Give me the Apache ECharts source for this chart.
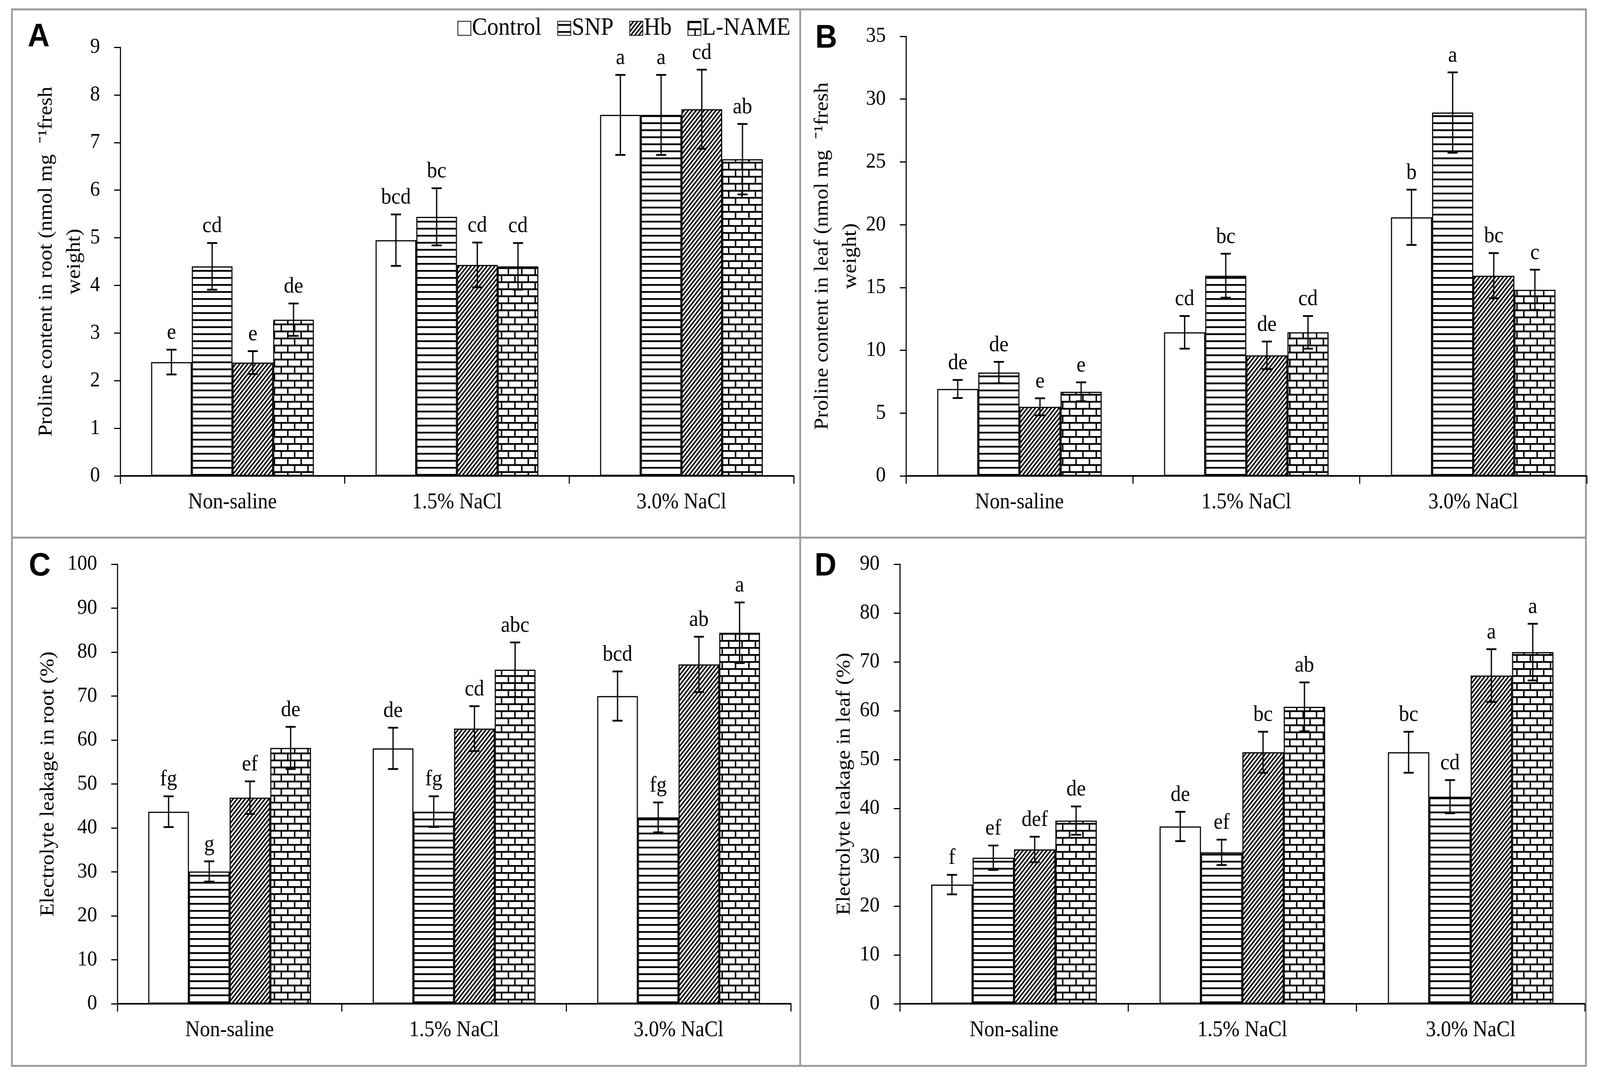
<!DOCTYPE html>
<html>
<head>
<meta charset="utf-8">
<script src="https://cdn.jsdelivr.net/npm/echarts@6/dist/echarts.min.js"></script>
<style>
html,body{margin:0;padding:0;background:#fff;overflow:hidden;width:100%;height:100%;}
#chart{width:4431px;height:2759px;position:absolute;left:0;top:0;transform-origin:0 0;}
</style>
</head>
<body>
<div id="chart"></div>
<script>
// ---------------- DATA ----------------
const categories = ['Non-saline', '1.5% NaCl', '3.0% NaCl'];
const treatments = ['Control', 'SNP', 'Hb', 'L-NAME'];

// Panel A: Proline content in root
const A_control = [2.39, 4.95, 7.58];
const A_snp     = [4.40, 5.44, 7.58];
const A_hb      = [2.38, 4.43, 7.70];
const A_lname   = [3.28, 4.40, 6.65];
const A_control_err = [0.26, 0.54, 0.84];
const A_snp_err     = [0.49, 0.60, 0.84];
const A_hb_err      = [0.24, 0.47, 0.83];
const A_lname_err   = [0.34, 0.49, 0.74];
const A_control_lbl = ['e', 'bcd', 'a'];
const A_snp_lbl     = ['cd', 'bc', 'a'];
const A_hb_lbl      = ['e', 'cd', 'cd'];
const A_lname_lbl   = ['de', 'cd', 'ab'];

// Panel B: Proline content in leaf
const B_control = [6.92, 11.43, 20.59];
const B_snp     = [8.23, 15.94, 28.93];
const B_hb      = [5.50, 9.60, 15.94];
const B_lname   = [6.70, 11.43, 14.82];
const B_control_err = [0.72, 1.30, 2.20];
const B_snp_err     = [0.85, 1.75, 3.20];
const B_hb_err      = [0.68, 1.10, 1.80];
const B_lname_err   = [0.75, 1.30, 1.60];
const B_control_lbl = ['de', 'cd', 'b'];
const B_snp_lbl     = ['de', 'bc', 'a'];
const B_hb_lbl      = ['e', 'de', 'bc'];
const B_lname_lbl   = ['e', 'cd', 'c'];

// Panel C: Electrolyte leakage in root
const C_control = [43.7, 58.1, 70.0];
const C_snp     = [30.1, 43.7, 42.4];
const C_hb      = [46.9, 62.6, 77.2];
const C_lname   = [58.2, 76.0, 84.4];
const C_control_err = [3.5, 4.7, 5.6];
const C_snp_err     = [2.3, 3.5, 3.4];
const C_hb_err      = [3.7, 5.1, 6.3];
const C_lname_err   = [4.8, 6.2, 6.9];
const C_control_lbl = ['fg', 'de', 'bcd'];
const C_snp_lbl     = ['g', 'fg', 'fg'];
const C_hb_lbl      = ['ef', 'cd', 'ab'];
const C_lname_lbl   = ['de', 'abc', 'a'];

// Panel D: Electrolyte leakage in leaf
const D_control = [24.4, 36.3, 51.5];
const D_snp     = [29.9, 31.0, 42.4];
const D_hb      = [31.6, 51.5, 67.2];
const D_lname   = [37.5, 60.8, 72.0];
const D_control_err = [2.0, 3.0, 4.2];
const D_snp_err     = [2.5, 2.6, 3.4];
const D_hb_err      = [2.6, 4.2, 5.4];
const D_lname_err   = [2.9, 5.0, 5.8];
const D_control_lbl = ['f', 'de', 'bc'];
const D_snp_lbl     = ['ef', 'ef', 'cd'];
const D_hb_lbl      = ['def', 'bc', 'a'];
const D_lname_lbl   = ['de', 'ab', 'a'];

// Axis settings
const yMax = [9, 35, 100, 90];
const yInterval = [1, 5, 10, 10];
const yTitles = [
  'Proline content in root (nmol mg  \u207B\u00B9fresh\nweight)',
  'Proline content in leaf (nmol mg  \u207B\u00B9fresh\nweight)',
  'Electrolyte leakage in root (%)',
  'Electrolyte leakage in leaf (%)'
];
const panelLetters = ['A', 'B', 'C', 'D'];

// ---------------- FIT TO WINDOW ----------------
const el = document.getElementById('chart');
const sx = (window.innerWidth || 4431) / 4431;
const sy = (window.innerHeight || 2759) / 2759;
el.style.transform = 'scale(' + sx + ',' + sy + ')';

// ---------------- PATTERNS ----------------
function makeCanvas(w, h) {
  const c = document.createElement('canvas');
  c.width = w; c.height = h;
  const ctx = c.getContext('2d');
  ctx.fillStyle = '#fff';
  ctx.fillRect(0, 0, w, h);
  return [c, ctx];
}
function stripePattern() {
  const [c, ctx] = makeCanvas(20, 18);
  ctx.fillStyle = '#000';
  ctx.fillRect(0, 7, 20, 4.5);
  return c;
}
function hatchPattern() {
  const w = 11, h = 13;
  const [c, ctx] = makeCanvas(w, h);
  ctx.strokeStyle = '#000';
  ctx.lineWidth = 4;
  ctx.lineCap = 'square';
  [-w, 0, w].forEach(o => {
    ctx.beginPath();
    ctx.moveTo(o, h);
    ctx.lineTo(o + w, 0);
    ctx.stroke();
  });
  return c;
}
function brickPattern() {
  const w = 37, h = 36;
  const [c, ctx] = makeCanvas(w, h);
  ctx.fillStyle = '#000';
  ctx.fillRect(0, 0, w, 4.5);
  ctx.fillRect(0, 18, w, 4.5);
  ctx.fillRect(0, 0, 4, 18);
  ctx.fillRect(18, 18, 4, 18);
  return c;
}
const fills = [
  '#ffffff',
  { image: stripePattern(), repeat: 'repeat' },
  { image: hatchPattern(), repeat: 'repeat' },
  { image: brickPattern(), repeat: 'repeat' }
];

// ---------------- LAYOUT ----------------
const SERIF = "'Liberation Serif', 'Times New Roman', serif";
const grids = [
  { left: 333, top: 121, width: 1865, height: 1097 },
  { left: 2509, top: 93, width: 1885, height: 1125 },
  { left: 325, top: 1444, width: 1865, height: 1125 },
  { left: 2492, top: 1444, width: 1897, height: 1125 }
];
const nameGaps = [86, 108, 152, 110];
const GAP = 0.275;

const panelData = [
  { m: [A_control, A_snp, A_hb, A_lname], e: [A_control_err, A_snp_err, A_hb_err, A_lname_err], l: [A_control_lbl, A_snp_lbl, A_hb_lbl, A_lname_lbl] },
  { m: [B_control, B_snp, B_hb, B_lname], e: [B_control_err, B_snp_err, B_hb_err, B_lname_err], l: [B_control_lbl, B_snp_lbl, B_hb_lbl, B_lname_lbl] },
  { m: [C_control, C_snp, C_hb, C_lname], e: [C_control_err, C_snp_err, C_hb_err, C_lname_err], l: [C_control_lbl, C_snp_lbl, C_hb_lbl, C_lname_lbl] },
  { m: [D_control, D_snp, D_hb, D_lname], e: [D_control_err, D_snp_err, D_hb_err, D_lname_err], l: [D_control_lbl, D_snp_lbl, D_hb_lbl, D_lname_lbl] }
];

const xAxes = [], yAxes = [], series = [];
grids.forEach((g, gi) => {
  xAxes.push({
    type: 'category', gridIndex: gi, data: categories,
    axisLine: { lineStyle: { color: '#000', width: 4 } },
    axisTick: { show: true, length: 20, lineStyle: { color: '#000', width: 3 } },
    axisLabel: { fontFamily: SERIF, fontSize: 56, color: '#000', margin: 40 },
    splitLine: { show: false }
  });
  yAxes.push({
    type: 'value', gridIndex: gi, min: 0, max: yMax[gi], interval: yInterval[gi],
    name: yTitles[gi], nameLocation: 'middle', nameGap: nameGaps[gi],
    nameTextStyle: { fontFamily: SERIF, fontSize: 55, color: '#000', lineHeight: 78 },
    axisLine: { show: true, lineStyle: { color: '#000', width: 3 } },
    axisTick: { show: true, length: 17, lineStyle: { color: '#000', width: 3 } },
    axisLabel: { fontFamily: SERIF, fontSize: 55, color: '#000', margin: 56 },
    splitLine: { show: false }
  });
  const pd = panelData[gi];
  treatments.forEach((t, ti) => {
    series.push({
      type: 'bar', name: t, xAxisIndex: gi, yAxisIndex: gi,
      data: pd.m[ti],
      barGap: '0%', barCategoryGap: (GAP * 100) + '%',
      itemStyle: { color: fills[ti], borderColor: '#000', borderWidth: 3 },
      emphasis: { disabled: true },
      animation: false
    });
  });
  treatments.forEach((t, ti) => {
    const means = pd.m[ti], errs = pd.e[ti], lbls = pd.l[ti];
    series.push({
      type: 'custom', xAxisIndex: gi, yAxisIndex: gi, z: 10,
      data: means.map((v, i) => [i, v, errs[i]]),
      animation: false,
      renderItem: (params, api) => {
        const ci = api.value(0), m = api.value(1), e = api.value(2);
        const band = api.size([1, 0])[0];
        const groupW = band * (1 - GAP);
        const bw = groupW / 4;
        const cx = api.coord([ci, m])[0] - groupW / 2 + bw * (ti + 0.5);
        const yTop = api.coord([ci, m + e])[1];
        const yBot = api.coord([ci, m - e])[1];
        const cap = 14;
        const st = { stroke: '#000', lineWidth: 3.5 };
        return {
          type: 'group', children: [
            { type: 'line', shape: { x1: cx, y1: yTop, x2: cx, y2: yBot }, style: st },
            { type: 'line', shape: { x1: cx - cap, y1: yTop, x2: cx + cap, y2: yTop }, style: { stroke: '#000', lineWidth: 4.5 } },
            { type: 'line', shape: { x1: cx - cap, y1: yBot, x2: cx + cap, y2: yBot }, style: { stroke: '#000', lineWidth: 4.5 } },
            { type: 'text', x: cx, y: yTop - 14, style: { text: lbls[params.dataIndex], textAlign: 'center', textVerticalAlign: 'bottom', fontFamily: SERIF, fontSize: 57, fill: '#000' } }
          ]
        };
      }
    });
  });
});

// Frame and panel letters
const FR = { l: 33, t: 24, r: 4392, b: 2728, mx: 2216, my: 1376 };
const frameStyle = { stroke: '#9a9a9a', lineWidth: 5 };
const graphic = [
  { type: 'rect', shape: { x: FR.l, y: FR.t, width: FR.r - FR.l, height: FR.b - FR.t }, style: { fill: 'none', stroke: '#9a9a9a', lineWidth: 5 }, z: -1 },
  { type: 'line', shape: { x1: FR.mx, y1: FR.t, x2: FR.mx, y2: FR.b }, style: frameStyle, z: -1 },
  { type: 'line', shape: { x1: FR.l, y1: FR.my, x2: FR.r, y2: FR.my }, style: frameStyle, z: -1 }
];
const letterPos = [[107, 96], [2288, 99], [110, 1450], [2286, 1450]];
letterPos.forEach((p, i) => {
  graphic.push({ type: 'text', x: p[0], y: p[1], style: { text: panelLetters[i], textAlign: 'center', textVerticalAlign: 'middle', fontFamily: "'Liberation Sans', Arial, sans-serif", fontWeight: 'bold', fontSize: 84, fill: '#000' } });
});

const chart = echarts.init(el, null, { renderer: 'canvas', width: 4431, height: 2759 });
chart.setOption({
  backgroundColor: '#ffffff',
  animation: false,
  legend: {
    data: treatments.map(t => ({ name: t, icon: 'rect' })),
    left: 1262, top: 36,
    itemWidth: 36, itemHeight: 36, itemGap: 44,
    selectedMode: false,
    textStyle: { fontFamily: SERIF, fontSize: 63, color: '#000', padding: [0, 0, 0, -2] }
  },
  grid: grids.map(g => Object.assign({ containLabel: false }, g)),
  xAxis: xAxes,
  yAxis: yAxes,
  series: series,
  graphic: graphic
});
</script>
</body>
</html>
